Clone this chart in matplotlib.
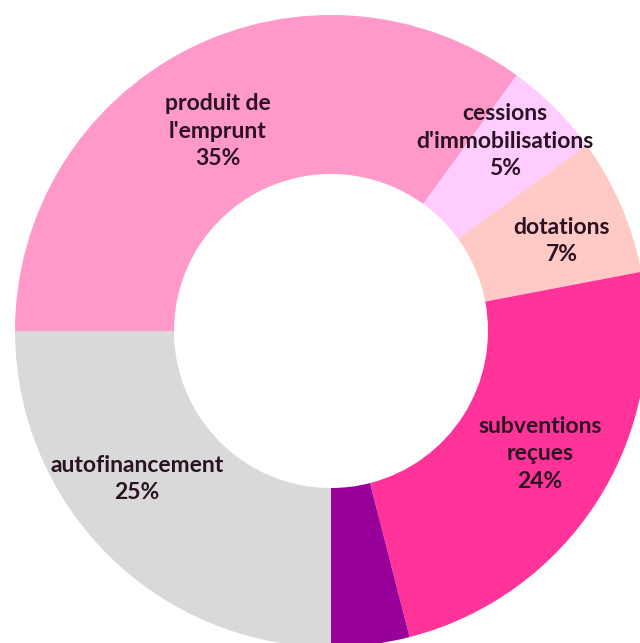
import matplotlib
matplotlib.use("Agg")
import matplotlib.pyplot as plt

# Sources of investment financing (share of total, %)
categories = ["autofinancement", "produit de\nl'emprunt", "cessions\nd'immobilisations",
              "dotations", "subventions\nreçues", "autres"]
shares = [25, 35, 5, 7, 24, 4]
colors = ["#D9D9D9", "#FF99C9", "#FFCCFF", "#FFC9C6", "#FF3399", "#990099"]
show_label = [True, True, True, True, True, False]

# label anchor points in pixel space (x, y from top)
label_pos = [(137, 479), (218, 131), (505, 141), (562, 241), (540, 454), None]

W, H = 640, 643
fig = plt.figure(figsize=(W / 100, H / 100), dpi=100)
ax = fig.add_axes([0, 0, 1, 1])
ax.set_xlim(0, W)
ax.set_ylim(0, H)
ax.axis("off")

cx, cy = 331, H - 331
r_out, r_in = 316, 157
ax.pie(shares, colors=colors, startangle=270, counterclock=False,
       radius=r_out, center=(cx, cy),
       wedgeprops=dict(width=r_out - r_in, linewidth=0))
ax.set_xlim(0, W)
ax.set_ylim(0, H)
ax.set_aspect("equal", adjustable="datalim")

for name, val, show, pos in zip(categories, shares, show_label, label_pos):
    if not show:
        continue
    x, y = pos
    ax.text(x, H - y, f"{name}\n{val}%", ha="center", va="center",
            fontsize=16.5, fontweight="bold", family="Lato", color="#2a1222",
            linespacing=1.4)

fig.savefig("out.png", dpi=100)
